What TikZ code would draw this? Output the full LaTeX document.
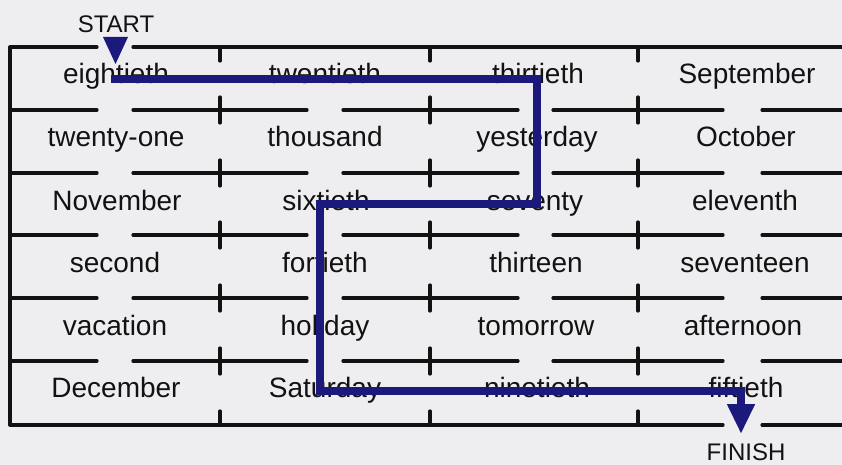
\documentclass[tikz,border=0pt]{standalone}
\usepackage{fontspec}
\setmainfont{Liberation Sans}
\usetikzlibrary{arrows.meta}
\definecolor{paper}{HTML}{EEEEF1}
\definecolor{ink}{HTML}{121212}
\definecolor{route}{HTML}{1B1A7C}
\begin{document}
\begin{tikzpicture}[x=1pt,y=-1pt,
  gridline/.style={draw=ink,line width=3.2pt,line cap=round},
  word/.style={anchor=base,inner sep=0pt,font=\fontsize{28}{30}\selectfont,text=ink},
  label/.style={anchor=center,inner sep=0pt,font=\fontsize{24}{26}\selectfont,text=ink},
  routeline/.style={draw=route,line width=8pt,line join=miter},
]
\fill[paper] (0,0) rectangle (842,465);
\useasboundingbox (0,0) rectangle (842,465);

% left edge
\draw[gridline] (10,47) -- (10,425);
% top line (gap for START)
\draw[gridline] (10,47) -- (97,47);
\draw[gridline] (133,47) -- (842,47);
% bottom line (gap for FINISH)
\draw[gridline] (10,425) -- (723,425);
\draw[gridline] (762,425) -- (842,425);
% inner lines with gaps
\foreach \y in {110,173,235,298,361}{
  \draw[gridline] (10,\y) -- (97,\y);
  \draw[gridline] (133,\y) -- (307,\y);
  \draw[gridline] (343,\y) -- (518,\y);
  \draw[gridline] (553,\y) -- (723,\y);
  \draw[gridline] (762,\y) -- (842,\y);
}
% ticks
\foreach \x in {220,430,638}{
  \draw[gridline] (\x,47) -- (\x,61);
  \draw[gridline] (\x,411) -- (\x,425);
  \foreach \y in {110,173,235,298,361}{
    \draw[gridline] (\x,\y-13) -- (\x,\y+13);
  }
}

% words
\node[word] (w11) at (116,84) {eightieth};
\node[word] (w12) at (325,84) {twentieth};
\node[word] (w13) at (538,84) {thirtieth};
\node[word] (w14) at (747,84) {September};
\node[word] (w21) at (116,147) {twenty-one};
\node[word] (w22) at (325,147) {thousand};
\node[word] (w23) at (537,147) {yesterday};
\node[word] (w24) at (746,147) {October};
\node[word] (w31) at (117,210) {November};
\node[word] (w32) at (326,210) {sixtieth};
\node[word] (w33) at (535,210) {seventy};
\node[word] (w34) at (745,210) {eleventh};
\node[word] (w41) at (115,272) {second};
\node[word] (w42) at (325,272) {fortieth};
\node[word] (w43) at (536,272) {thirteen};
\node[word] (w44) at (745,272) {seventeen};
\node[word] (w51) at (115,335) {vacation};
\node[word] (w52) at (325,335) {holiday};
\node[word] (w53) at (536,335) {tomorrow};
\node[word] (w54) at (743,335) {afternoon};
\node[word] (w61) at (116,397) {December};
\node[word] (w62) at (325,397) {Saturday};
\node[word] (w63) at (537,397) {ninetieth};
\node[word] (w64) at (746,397) {fiftieth};

% labels
\node[label] (start) at (116,24) {START};
\node[label] (finish) at (746,452) {FINISH};

% start marker
\fill[route] (103,37) -- (128,37) -- (115.5,64) -- cycle;

% route
\coordinate (r0) at (111,79);
\coordinate (r1) at (537,79);
\coordinate (r2) at (537,204);
\coordinate (r3) at (320,204);
\coordinate (r4) at (320,391);
\coordinate (r5) at (741,391);
\coordinate (r6) at (741,434);
\draw[routeline,-{Triangle[width=26pt,length=30pt]}]
  (r0) -- (r1) -- (r2) -- (r3) -- (r4) -- (r5) -- (r6);
\end{tikzpicture}
\end{document}
